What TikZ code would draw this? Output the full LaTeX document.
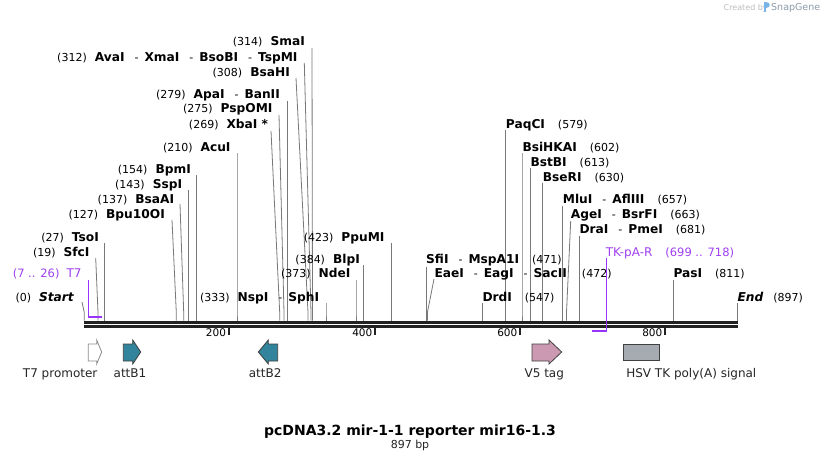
\documentclass[tikz,border=0pt]{standalone}
\usepackage{fontspec}
\setmainfont{DejaVu Sans}
\definecolor{cutgray}{RGB}{120,120,120}
\definecolor{prim}{RGB}{153,51,255}
\definecolor{primtxt}{RGB}{160,64,240}
\definecolor{featteal}{RGB}{49,132,155}
\definecolor{v5pink}{RGB}{204,153,178}
\definecolor{tkgray}{RGB}{166,171,178}
\definecolor{bbcol}{RGB}{34,34,34}
\definecolor{sgtxt}{RGB}{190,190,190}
\definecolor{sgname}{RGB}{140,155,170}
\definecolor{sglogo}{RGB}{120,180,230}
\newcommand\bnm[1]{{\fontsize{12.2}{14}\selectfont\bfseries #1}}
\newcommand\bit[1]{{\fontsize{12.2}{14}\selectfont\bfseries\itshape #1}}
\newcommand\sepd{\hspace{10pt}-\hspace{6pt}}
\newcommand\gapL{\hspace{8pt}}
\newcommand\gapR{\hspace{13pt}}
\tikzset{
  lbl/.style={inner sep=0pt, font=\fontsize{11}{13}\selectfont, text=black},
  plbl/.style={inner sep=0pt, font=\fontsize{11.5}{13}\selectfont, text=primtxt},
  cut/.style={draw=cutgray, line width=0.8pt},
  bb/.style={draw=bbcol, line width=2.6pt},
  tickm/.style={draw=bbcol, line width=1.6pt},
  ticklbl/.style={inner sep=0pt, font=\fontsize{10.5}{12}\selectfont, anchor=base east},
  feat/.style={draw=black!75, line width=0.8pt},
  flbl/.style={inner sep=0pt, font=\fontsize{12}{14}\selectfont, anchor=base, text=black!85},
  primer/.style={draw=prim, line width=1.5pt}
}
% name, top x, top y, bottom x
\newcommand\cutline[4]{%
  \coordinate (#1t) at (#2,#3);
  \coordinate (#1b) at (#4,320.5);
  \draw[cut] (#1t) -- ([yshift=8pt]#1b) -- (#1b);}
\begin{document}
\begin{tikzpicture}[x=1pt,y=-1pt]
\useasboundingbox (0,0) rectangle (822,460);
\fill[white] (0,0) rectangle (822,460);

% backbone
\coordinate (bbL) at (84,322.2);
\coordinate (bbR) at (738,322.2);
\coordinate (bbL2) at (84,326.4);
\coordinate (bbR2) at (738,326.4);
\draw[bb] (bbL) -- (bbR);
\draw[bb] (bbL2) -- (bbR2);

% ticks
\foreach \tx/\tl in {228.7/200, 375/400, 520/600, 665/800}{
  \coordinate (tk\tl) at (\tx,327);
  \draw[tickm] (tk\tl) -- ([yshift=-8pt]tk\tl);
  \node[ticklbl] (tl\tl) at (\tx-2.5,336.8) {\tl};
}

% cut lines
\cutline{start}{82}{302}{84.3}
\cutline{sfci}{95.7}{258}{98}
\cutline{tsoi}{104.3}{243}{104.3}
\cutline{bpu}{172}{220}{176.3}
\cutline{bsaai}{180}{204}{183.7}
\cutline{sspi}{188.3}{190}{188.3}
\cutline{bpmi}{196.3}{175}{196.3}
\cutline{acui}{237}{153}{237}
\cutline{xbai}{271}{131}{279.7}
\cutline{pspo}{279}{115}{284}
\cutline{apai}{287.3}{101}{287.3}
\cutline{bsahi}{296}{78}{308}
\cutline{avai}{304.3}{63}{311}
\cutline{smai}{312}{48}{312.5}
\cutline{nspi}{326}{303}{326}
\cutline{ndei}{356}{280}{356}
\cutline{blpi}{363.3}{265}{363.3}
\cutline{ppumi}{391.3}{243}{391.3}
\cutline{sfii}{426.7}{266.7}{426.7}
\cutline{eaei}{434}{279}{427.4}
\cutline{drdi}{482.7}{303}{482.7}
\cutline{paqci}{505.3}{130}{505.3}
\cutline{bsihk}{522}{153}{522}
\cutline{bstbi}{530.3}{168}{530.3}
\cutline{bseri}{542.7}{183}{542.7}
\cutline{mlui}{562.7}{206}{562.7}
\cutline{agei}{570.7}{221}{566.5}
\cutline{drai}{579.3}{236}{579.3}
\cutline{pasi}{673.7}{280}{673.7}
\cutline{endl}{737.3}{303}{737.3}

% left labels
\node[lbl, anchor=base east] (Lsmai) at (305,46) {(314)\gapL\bnm{SmaI}};
\node[lbl, anchor=base east] (Lavai) at (297.7,61.6) {(312)\gapL\bnm{AvaI}\sepd\bnm{XmaI}\sepd\bnm{BsoBI}\sepd\bnm{TspMI}};
\node[lbl, anchor=base east] (Lbsahi) at (290,76.6) {(308)\gapL\bnm{BsaHI}};
\node[lbl, anchor=base east] (Lapai) at (280,98.6) {(279)\gapL\bnm{ApaI}\sepd\bnm{BanII}};
\node[lbl, anchor=base east] (Lpspo) at (272.7,112.6) {(275)\gapL\bnm{PspOMI}};
\node[lbl, anchor=base east] (Lxbai) at (268.3,128.3) {(269)\gapL\bnm{XbaI *}};
\node[lbl, anchor=base east] (Lacui) at (230.7,151.6) {(210)\gapL\bnm{AcuI}};
\node[lbl, anchor=base east] (Lbpmi) at (191,173.3) {(154)\gapL\bnm{BpmI}};
\node[lbl, anchor=base east] (Lsspi) at (182.3,188.3) {(143)\gapL\bnm{SspI}};
\node[lbl, anchor=base east] (Lbsaai) at (174.3,203.3) {(137)\gapL\bnm{BsaAI}};
\node[lbl, anchor=base east] (Lbpu) at (165,218.3) {(127)\gapL\bnm{Bpu10OI}};
\node[lbl, anchor=base east] (Ltsoi) at (99,241) {(27)\gapL\bnm{TsoI}};
\node[lbl, anchor=base east] (Lsfci) at (89.7,256) {(19)\gapL\bnm{SfcI}};
\node[plbl, anchor=base east] (Lt7) at (81.7,277.6) {(7 .. 26)\hspace{7pt}{\fontsize{12}{14}\selectfont T7}};
\node[lbl, anchor=base east] (Lstart) at (74,301.3) {(0)\gapL\bit{Start}};
\node[lbl, anchor=base east] (Lnspi) at (319.3,301.3) {(333)\gapL\bnm{NspI}\sepd\bnm{SphI}};
\node[lbl, anchor=base east] (Lndei) at (350.7,277.6) {(373)\gapL\bnm{NdeI}};
\node[lbl, anchor=base east] (Lblpi) at (360,263.3) {(384)\gapL\bnm{BlpI}};
\node[lbl, anchor=base east] (Lppumi) at (384.7,241) {(423)\gapL\bnm{PpuMI}};

% right labels
\node[lbl, anchor=base west] (Lsfii) at (426,263.3) {\bnm{SfiI}\sepd\bnm{MspA1I}\gapR(471)};
\node[lbl, anchor=base west] (Leaei) at (434.3,277.6) {\bnm{EaeI}\sepd\bnm{EagI}\sepd\bnm{SacII}\hspace{15pt}(472)};
\node[lbl, anchor=base west] (Ldrdi) at (482.3,301.3) {\bnm{DrdI}\gapR(547)};
\node[lbl, anchor=base west] (Lpaqci) at (505.7,128.3) {\bnm{PaqCI}\gapR(579)};
\node[lbl, anchor=base west] (Lbsihk) at (522.3,151.6) {\bnm{BsiHKAI}\gapR(602)};
\node[lbl, anchor=base west] (Lbstbi) at (530.3,166.6) {\bnm{BstBI}\gapR(613)};
\node[lbl, anchor=base west] (Lbseri) at (542.7,181.6) {\bnm{BseRI}\gapR(630)};
\node[lbl, anchor=base west] (Lmlui) at (562.7,203.3) {\bnm{MluI}\sepd\bnm{AflIII}\gapR(657)};
\node[lbl, anchor=base west] (Lagei) at (570.7,218.3) {\bnm{AgeI}\sepd\bnm{BsrFI}\gapR(663)};
\node[lbl, anchor=base west] (Ldrai) at (579.3,233.3) {\bnm{DraI}\sepd\bnm{PmeI}\gapR(681)};
\node[plbl, anchor=base west] (Ltk) at (605.7,256.6) {{\fontsize{12}{14}\selectfont TK-pA-R}\gapR(699 .. 718)};
\node[lbl, anchor=base west] (Lpasi) at (673.3,277.6) {\bnm{PasI}\gapR(811)};
\node[lbl, anchor=base west] (Lend) at (737.3,301.3) {\bit{End}\hspace{10pt}(897)};

% primers
\coordinate (t7a) at (88.5,280);
\coordinate (t7b) at (88.5,317);
\coordinate (t7c) at (102,317);
\draw[primer] (t7a) -- (t7b) -- (t7c);
\coordinate (tka) at (606.3,258);
\coordinate (tkb) at (606.3,332);
\coordinate (tkc) at (592,330.7);
\draw[draw=prim, line width=1.2pt] (tka) -- (tkb);
\draw[draw=prim, line width=2.2pt] (tkc) -- (606.3,330.7);

% features
\draw[feat, draw=black!45, fill=white] (88.3,344) -- (96.7,344) -- (96.7,340) -- (101.7,352) -- (96.7,364) -- (96.7,361) -- (88.3,361) -- cycle;
\draw[feat, fill=featteal] (123.3,344) -- (132.7,344) -- (132.7,340) -- (140.7,352) -- (132.7,364) -- (132.7,361) -- (123.3,361) -- cycle;
\draw[feat, fill=featteal] (277.7,344) -- (268.3,344) -- (268.3,340) -- (258.3,352) -- (268.3,364) -- (268.3,361) -- (277.7,361) -- cycle;
\draw[feat, fill=v5pink] (532,344) -- (549,344) -- (549,340) -- (561.7,352) -- (549,364) -- (549,361) -- (532,361) -- cycle;
\draw[feat, fill=tkgray] (623.3,344.3) rectangle (659.3,360.7);

\node[flbl] (Ft7) at (60.2,377.7) {T7 promoter};
\node[flbl] (Fattb1) at (130,377.7) {attB1};
\node[flbl] (Fattb2) at (265.2,377.7) {attB2};
\node[flbl] (Fv5) at (544.3,377.7) {V5 tag};
\node[flbl] (Ftk) at (691.3,377.7) {HSV TK poly(A) signal};

% title
\node[inner sep=0pt, anchor=base, font=\fontsize{14}{16}\selectfont\bfseries] (title) at (410,435) {pcDNA3.2 mir-1-1 reporter mir16-1.3};
\node[inner sep=0pt, anchor=base, font=\fontsize{11}{13}\selectfont, text=black!85] (bp) at (410,448) {897 bp};

% watermark
\node[inner sep=0pt, anchor=base west, font=\fontsize{8}{9}\selectfont, text=sgtxt] (sgc) at (723.5,10.5) {Created by};
\fill[sglogo] (763.5,2.5) rectangle (765.5,12.5);
\fill[sglogo] (765.5,2.5) .. controls (770.5,2.5) and (770.5,8.5) .. (765.5,8.5) -- cycle;
\node[inner sep=0pt, anchor=base west, font=\fontsize{9.5}{11}\selectfont, text=sgname] (sgn) at (771,11) {SnapGene};
\end{tikzpicture}
\end{document}
